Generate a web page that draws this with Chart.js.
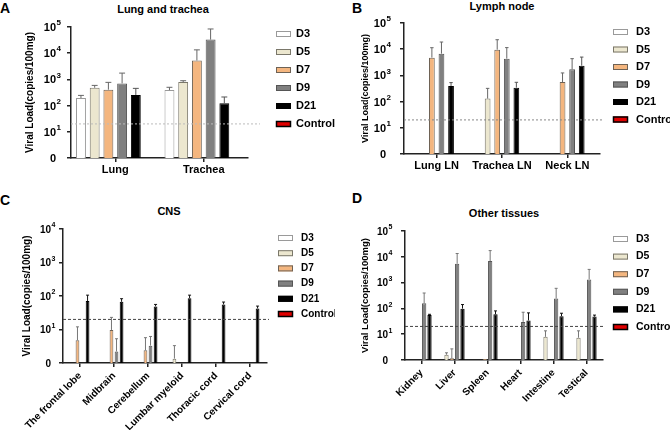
<!DOCTYPE html>
<html>
<head>
<meta charset="utf-8">
<script src="https://cdn.jsdelivr.net/npm/chart.js@4.4.1/dist/chart.umd.min.js"></script>
<style>
  body { margin: 0; background: #fff; }
  #fig { position: relative; width: 670px; height: 430px; font-family: "Liberation Sans", Arial, sans-serif; }
  #fig canvas { position: absolute; }
  .lbl { position: absolute; font-weight: bold; color: #000; transform: translate(-50%, -50%); white-space: nowrap; }
  .letter { font-size: 14px; }
  .ttl { font-size: 11px; }
</style>
</head>
<body>
<div id="fig">
  <div class="lbl letter" style="left:5px; top:8px">A</div>
  <div class="lbl ttl" style="left:163px; top:9px">Lung and trachea</div>
  <div class="lbl letter" style="left:357px; top:8px">B</div>
  <div class="lbl ttl" style="left:502px; top:6px">Lymph node</div>
  <div class="lbl letter" style="left:5px; top:200px">C</div>
  <div class="lbl ttl" style="left:169px; top:211px">CNS</div>
  <div class="lbl letter" style="left:357px; top:198px">D</div>
  <div class="lbl ttl" style="left:504px; top:213px">Other tissues</div>

  <canvas id="chartA" width="335" height="185" style="left:0; top:0"></canvas>
  <canvas id="chartB" width="335" height="185" style="left:335px; top:0"></canvas>
  <canvas id="chartC" width="335" height="240" style="left:0; top:190px"></canvas>
  <canvas id="chartD" width="335" height="240" style="left:335px; top:190px"></canvas>
</div>

<script>
// series and tick labels
const seriesNames = ['D3', 'D5', 'D7', 'D9', 'D21', 'Control'];
const yTickVals = [1, 10, 100, 1000, 10000, 100000];
const yTickBase = ['0', '10', '10', '10', '10', '10'];
const yTickExp = ['', '1', '2', '3', '4', '5'];
const cutoff = 20; // detection limit line

// A - Lung and trachea
const catsA = ['Lung', 'Trachea'];
const d3A = [195, 390],   d3AErr = [245, 500];
const d5A = [480, 790],   d5AErr = [590, 890];
const d7A = [405, 5250],  d7AErr = [770, 13400];
const d9A = [705, 33000], d9AErr = [1740, 84000];
const d21A = [255, 123],  d21AErr = [455, 213];
const ctrlA = [null, null];

// B - Lymph node
const catsB = ['Lung LN', 'Trachea LN', 'Neck LN'];
const d3B = [null, null, null],   d3BErr = [null, null, null];
const d5B = [null, 130, null],    d5BErr = [null, 320, null];
const d7B = [4760, 9600, 560],    d7BErr = [11400, 23000, 1240];
const d9B = [6750, 4350, 1700],   d9BErr = [18800, 11500, 4350];
const d21B = [395, 340, 2350],    d21BErr = [530, 545, 5000];
const ctrlB = [null, null, null];

// C - CNS
const catsC = ['The frontal lobe', 'Midbrain', 'Cerebellum', 'Lumbar myeloid', 'Thoracic cord', 'Cervical cord'];
const d3C = [null, null, null, null, null, null],  d3CErr = [null, null, null, null, null, null];
const d5C = [null, null, null, 1.35, null, null],  d5CErr = [null, null, null, 3.3, null, null];
const d7C = [4.8, 9.7, 2.4, null, null, null],     d7CErr = [12, 23, 5.7, null, null, null];
const d9C = [null, 2.2, 3.3, null, null, null],    d9CErr = [null, 5.3, 6.2, null, null, null];
const d21C = [71, 67, 49, 86, 56, 42.5],           d21CErr = [106, 83, 56, 106, 66, 50];
const ctrlC = [null, null, null, null, null, null];

// D - Other tissues
const catsD = ['Kidney', 'Liver', 'Spleen', 'Heart', 'Intestine', 'Testical'];
const d3D = [null, null, null, null, null, null],  d3DErr = [null, null, null, null, null, null];
const d5D = [null, 1.6, null, null, 7.9, 7.3],     d5DErr = [null, 1.9, null, null, 13.5, 13.5];
const d7D = [null, 1.16, 1.1, null, null, null],   d7DErr = [null, 2.7, null, null, null, null];
const d9D = [158, 5350, 6800, 30, 240, 1330],      d9DErr = [395, 13400, 17400, 71, 600, 3250];
const d21D = [56, 98, 59, 34, 50, 48],             d21DErr = [59, 141, 80, 67, 65, 55];
const ctrlD = [null, null, null, null, null, null];

const fills = ['#ffffff', '#ece7cf', '#f4b67f', '#808080', '#000000', '#e00000'];
const borders = ['#9a9a9a', '#7a776a', '#6e6255', '#555555', '#000000', '#000000'];
const FONT = '"Liberation Sans", Arial, sans-serif';

// upper error bars, drawn from the bar top to the error value
const errorBars = {
    id: 'errorBars',
    afterDatasetsDraw(chart) {
        const ctx = chart.ctx;
        const yScale = chart.scales.y;
        ctx.save();
        chart.data.datasets.forEach((ds, i) => {
            if (!ds.errors) return;
            const meta = chart.getDatasetMeta(i);
            meta.data.forEach((bar, j) => {
                const e = ds.errors[j];
                if (e == null || ds.data[j] == null) return;
                const yE = yScale.getPixelForValue(e);
                const half = Math.max(1.5, bar.width * 0.3);
                ctx.strokeStyle = ds.errColor;
                ctx.lineWidth = 1;
                ctx.beginPath();
                ctx.moveTo(bar.x, bar.y);
                ctx.lineTo(bar.x, yE);
                ctx.moveTo(bar.x - half, yE);
                ctx.lineTo(bar.x + half, yE);
                ctx.stroke();
            });
        });
        ctx.restore();
    }
};

// horizontal detection-limit line
const refLine = {
    id: 'refLine',
    afterDatasetsDraw(chart, args, opts) {
        const {ctx, chartArea} = chart;
        const y = chart.scales.y.getPixelForValue(opts.value);
        ctx.save();
        ctx.strokeStyle = opts.color;
        ctx.lineWidth = 1;
        ctx.setLineDash(opts.dash);
        ctx.beginPath();
        ctx.moveTo(chartArea.left, y);
        ctx.lineTo(chartArea.right + opts.extra, y);
        ctx.stroke();
        ctx.restore();
    }
};

// y tick labels as 10 with a raised exponent
const powerTicks = {
    id: 'powerTicks',
    afterDraw(chart, args, opts) {
        const ctx = chart.ctx;
        const s = chart.scales.y;
        ctx.save();
        ctx.fillStyle = '#000';
        ctx.textBaseline = 'middle';
        s.ticks.forEach(t => {
            const k = yTickVals.indexOf(t.value);
            const y = s.getPixelForValue(t.value) + 1;
            const x = chart.chartArea.left - opts.gap;
            ctx.textAlign = 'right';
            ctx.font = 'bold ' + opts.size + 'px ' + FONT;
            ctx.fillText(yTickBase[k], x, y);
            if (yTickExp[k]) {
                ctx.textAlign = 'left';
                ctx.font = 'bold ' + Math.round(opts.size * 0.7) + 'px ' + FONT;
                ctx.fillText(yTickExp[k], x + 0.5, y - opts.size * 0.45);
            }
        });
        ctx.restore();
    }
};

// legend column on the right
const boxLegend = {
    id: 'boxLegend',
    afterDraw(chart, args, opts) {
        const ctx = chart.ctx;
        ctx.save();
        ctx.font = 'bold ' + opts.size + 'px ' + FONT;
        ctx.textBaseline = 'middle';
        chart.data.datasets.forEach((ds, i) => {
            const y = opts.y + i * opts.gap;
            ctx.fillStyle = ds.backgroundColor;
            ctx.fillRect(opts.x, y - 3, 15, 6);
            ctx.strokeStyle = ds.borderColor;
            ctx.lineWidth = ds.label === 'Control' ? 1.5 : 1;
            ctx.strokeRect(opts.x + 0.5, y - 2.5, 14, 5);
            ctx.fillStyle = '#000';
            ctx.fillText(ds.label, opts.textX, y);
        });
        ctx.restore();
    }
};

function makePanel(id, p) {
    const datasets = seriesNames.map((name, i) => ({
        label: name,
        data: p.values[i],
        errors: p.errors[i],
        errColor: p.errColors[i],
        backgroundColor: fills[i],
        borderColor: borders[i],
        borderWidth: 1,
        barPercentage: p.barPct,
        categoryPercentage: p.catPct
    }));

    return new Chart(document.getElementById(id), {
        type: 'bar',
        data: { labels: p.labels, datasets },
        plugins: [errorBars, refLine, powerTicks, boxLegend],
        options: {
            responsive: false,
            animation: false,
            layout: { padding: { left: 0, top: p.area.top, right: p.area.right, bottom: 0 } },
            plugins: {
                legend: { display: false },
                tooltip: { enabled: false },
                refLine: { value: cutoff, color: p.lineColor, dash: p.dash, extra: p.lineExtra },
                powerTicks: { gap: p.tickGap, size: p.yFont },
                boxLegend: p.legend
            },
            scales: {
                x: {
                    grid: { drawOnChartArea: false, offset: false, tickLength: 4, color: '#222', lineWidth: 1.5 },
                    border: { color: '#222', width: 1.5 },
                    ticks: {
                        color: '#000',
                        font: { family: FONT, size: p.xFont, weight: 'bold' },
                        maxRotation: p.rot, minRotation: p.rot,
                        autoSkip: false, padding: p.xPad
                    },
                    afterFit: s => { s.height = p.area.xH; }
                },
                y: {
                    type: 'logarithmic',
                    min: 1,
                    max: p.max,
                    afterBuildTicks: s => { s.ticks = yTickVals.filter(v => v <= p.max).map(v => ({ value: v })); },
                    grid: { drawOnChartArea: false, tickLength: 4, color: '#222', lineWidth: 1.5 },
                    border: { color: '#222', width: 1.5 },
                    ticks: { display: false },
                    title: {
                        display: true,
                        text: 'Viral Load(copies/100mg)',
                        color: '#000',
                        font: { family: FONT, size: p.titleSize, weight: 'bold' },
                        padding: { top: p.titleX, bottom: 0 }
                    },
                    afterFit: s => { s.width = p.area.yW; }
                }
            }
        }
    });
}

const softErr = ['#777', '#777', '#777', '#777', '#111', '#000'];
const grayErr = ['#666', '#666', '#666', '#666', '#555', '#000'];

makePanel('chartA', {
    labels: catsA,
    values: [d3A, d5A, d7A, d9A, d21A, ctrlA],
    errors: [d3AErr, d5AErr, d7AErr, d9AErr, d21AErr, null],
    errColors: grayErr,
    max: 100000, barPct: 0.72, catPct: 0.93, rot: 0, xFont: 11, yFont: 11, xPad: 1, tickGap: 15,
    area: { top: 27, right: 87, yW: 71, xH: 27 }, titleX: 24, titleSize: 10,
    lineColor: '#bbbbbb', dash: [2, 2], lineExtra: 12,
    legend: { x: 276, textX: 296, y: 34, gap: 18, size: 11 }
});

makePanel('chartB', {
    labels: catsB,
    values: [d3B, d5B, d7B, d9B, d21B, ctrlB],
    errors: [d3BErr, d5BErr, d7BErr, d9BErr, d21BErr, null],
    errColors: grayErr,
    max: 100000, barPct: 0.6, catPct: 0.88, rot: 0, xFont: 11, yFont: 11, xPad: 1, tickGap: 18,
    area: { top: 23, right: 70, yW: 69, xH: 31 }, titleX: 25, titleSize: 9,
    lineColor: '#888888', dash: [2, 2], lineExtra: 4,
    legend: { x: 278, textX: 301, y: 32, gap: 17.5, size: 11 }
});

makePanel('chartC', {
    labels: catsC,
    values: [d3C, d5C, d7C, d9C, d21C, ctrlC],
    errors: [d3CErr, d5CErr, d7CErr, d9CErr, d21CErr, null],
    errColors: softErr,
    max: 10000, barPct: 0.74, catPct: 0.89, rot: 45, xFont: 10, yFont: 10, xPad: 3, tickGap: 12,
    area: { top: 39, right: 68, yW: 63, xH: 67 }, titleX: 21, titleSize: 10,
    lineColor: '#444444', dash: [3, 2], lineExtra: 2,
    legend: { x: 278, textX: 301, y: 48, gap: 15.2, size: 10 }
});

makePanel('chartD', {
    labels: catsD,
    values: [d3D, d5D, d7D, d9D, d21D, ctrlD],
    errors: [d3DErr, d5DErr, d7DErr, d9DErr, d21DErr, null],
    errColors: softErr,
    max: 100000, barPct: 0.8, catPct: 0.97, rot: 45, xFont: 10, yFont: 10, xPad: 3, tickGap: 17,
    area: { top: 41, right: 67, yW: 70, xH: 70 }, titleX: 25, titleSize: 9.5,
    lineColor: '#444444', dash: [3, 2], lineExtra: 2,
    legend: { x: 278, textX: 301, y: 49, gap: 17.6, size: 10.5 }
});
</script>
</body>
</html>
